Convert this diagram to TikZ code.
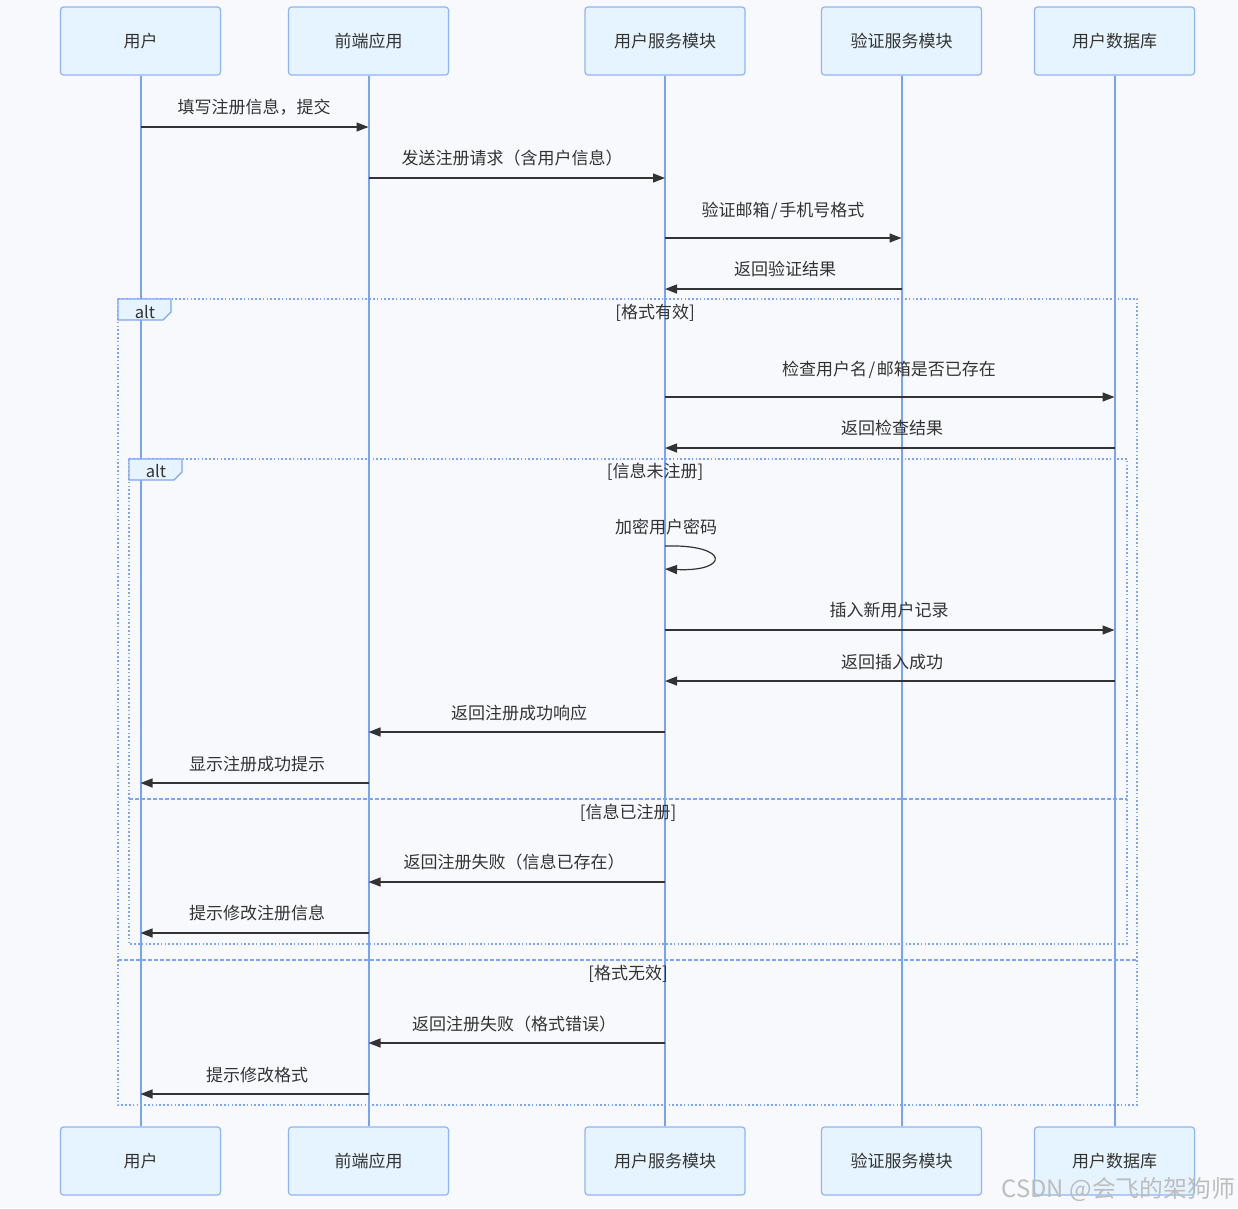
\documentclass[tikz,border=0pt]{standalone}
\usepackage{fontspec}
\setmainfont{Noto Sans CJK SC}
\usetikzlibrary{arrows.meta,calc}
\definecolor{bgc}{HTML}{F8F9FC}
\definecolor{boxfill}{HTML}{E6F4FF}
\definecolor{boxline}{HTML}{8DB5F8}
\definecolor{lifec}{HTML}{76A3F6}
\definecolor{framec}{HTML}{7CA6F5}
\definecolor{txt}{HTML}{333333}
\definecolor{wm}{HTML}{BDBDBD}
\newcommand{\slsh}{\kern1.5pt/\kern1.5pt}
\tikzset{
  actor/.style={draw=boxline, fill=boxfill, line width=1.2pt, rounded corners=3pt,
    minimum width=160pt, minimum height=68pt, text=txt, font=\fontsize{17}{19}\selectfont, inner sep=0pt},
  life/.style={draw=lifec, line width=2pt},
  msg/.style={draw=txt, line width=1.4pt, -{Triangle[length=12pt,width=9pt]}},
  lbl/.style={text=txt, font=\fontsize{17}{19}\selectfont, inner sep=0pt, anchor=base},
  frm/.style={draw=framec, line width=1.6pt, dash pattern=on 1.6pt off 2.2pt},
  sep/.style={draw=framec, line width=1.4pt, dash pattern=on 3.5pt off 2.5pt},
  tag/.style={draw=framec, fill=boxfill, line width=1.2pt},
  tagtxt/.style={text=txt, font=\fontsize{16.5}{18}\selectfont, inner sep=0pt},
  cond/.style={text=txt, font=\fontsize{17}{19}\selectfont, inner sep=0pt},
}
\begin{document}
\begin{tikzpicture}[x=1pt,y=-1pt]
\useasboundingbox (0,0) rectangle (1238,1208);
\fill[bgc] (0,0) rectangle (1238,1208);

% actor boxes top and bottom
\node[actor] (uT) at (140.5,41) {用户};
\node[actor] (fT) at (368.5,41) {前端应用};
\node[actor] (sT) at (665,41) {用户服务模块};
\node[actor] (vT) at (901.5,41) {验证服务模块};
\node[actor] (dT) at (1114.5,41) {用户数据库};
\node[actor] (uB) at (140.5,1161) {用户};
\node[actor] (fB) at (368.5,1161) {前端应用};
\node[actor] (sB) at (665,1161) {用户服务模块};
\node[actor] (vB) at (901.5,1161) {验证服务模块};
\node[actor] (dB) at (1114.5,1161) {用户数据库};

% lifelines
\draw[life] (uT.south) -- (uB.north);
\draw[life] (fT.south) -- (fB.north);
\draw[life] (sT.south) -- (sB.north);
\draw[life] (vT.south) -- (vB.north);
\draw[life] (dT.south) -- (dB.north);

% outer alt frame
\draw[frm] (118,299) rectangle (1137,1105);
\draw[tag] (118,299) -- (171,299) -- (171,312) -- (163,320) -- (118,320) -- cycle;
\node[tagtxt] (alt1) at (145,312) {alt};
\node[cond] (c1) at (655,313) {[格式有效]};
\draw[sep] (118,960) -- (1137,960);
\node[cond] (c4) at (628,974) {[格式无效]};

% inner alt frame
\draw[frm] (129,459) rectangle (1127,944);
\draw[tag] (129,459) -- (182,459) -- (182,472) -- (174,480) -- (129,480) -- cycle;
\node[tagtxt] (alt2) at (156,471) {alt};
\node[cond] (c2) at (655,472) {[信息未注册]};
\draw[sep] (129,799) -- (1127,799);
\node[cond] (c3) at (628,813) {[信息已注册]};

% messages
\draw[msg] (uT.center |- 0,127) -- (fT.center |- 0,127);
\node[lbl] (l1) at (254,113) {填写注册信息，提交};
\draw[msg] (fT.center |- 0,178) -- (sT.center |- 0,178);
\node[lbl] (l2) at (512,164) {发送注册请求（含用户信息）};
\draw[msg] (sT.center |- 0,238) -- (vT.center |- 0,238);
\node[lbl] (l3) at (783,216) {验证邮箱\slsh 手机号格式};
\draw[msg] (vT.center |- 0,289) -- (sT.center |- 0,289);
\node[lbl] (l4) at (785,275) {返回验证结果};

\draw[msg] (sT.center |- 0,397) -- (dT.center |- 0,397);
\node[lbl] (l5) at (889,375) {检查用户名\slsh 邮箱是否已存在};
\draw[msg] (dT.center |- 0,448) -- (sT.center |- 0,448);
\node[lbl] (l6) at (892,434) {返回检查结果};

\node[lbl] (l7) at (666,533) {加密用户密码};
\coordinate (lp1) at (sT.center |- 0,546);
\coordinate (lp2) at (sT.center |- 0,569);
\draw[msg, line width=1.2pt] (lp1) .. controls (730,544) and (730,572) .. (lp2);

\draw[msg] (sT.center |- 0,630) -- (dT.center |- 0,630);
\node[lbl] (l8) at (889,616) {插入新用户记录};
\draw[msg] (dT.center |- 0,681) -- (sT.center |- 0,681);
\node[lbl] (l9) at (892,668) {返回插入成功};
\draw[msg] (sT.center |- 0,732) -- (fT.center |- 0,732);
\node[lbl] (l10) at (519,719) {返回注册成功响应};
\draw[msg] (fT.center |- 0,783) -- (uT.center |- 0,783);
\node[lbl] (l11) at (257,770) {显示注册成功提示};

\draw[msg] (sT.center |- 0,882) -- (fT.center |- 0,882);
\node[lbl] (l12) at (514,868) {返回注册失败（信息已存在）};
\draw[msg] (fT.center |- 0,933) -- (uT.center |- 0,933);
\node[lbl] (l13) at (257,919) {提示修改注册信息};

\draw[msg] (sT.center |- 0,1043) -- (fT.center |- 0,1043);
\node[lbl] (l14) at (514,1030) {返回注册失败（格式错误）};
\draw[msg] (fT.center |- 0,1094) -- (uT.center |- 0,1094);
\node[lbl] (l15) at (257,1081) {提示修改格式};

% watermark
\node[text=wm, font=\fontsize{23.8}{25}\selectfont, inner sep=0pt, anchor=base east] (wmk) at (1235,1197) {CSDN @会飞的架狗师};
\end{tikzpicture}
\end{document}
